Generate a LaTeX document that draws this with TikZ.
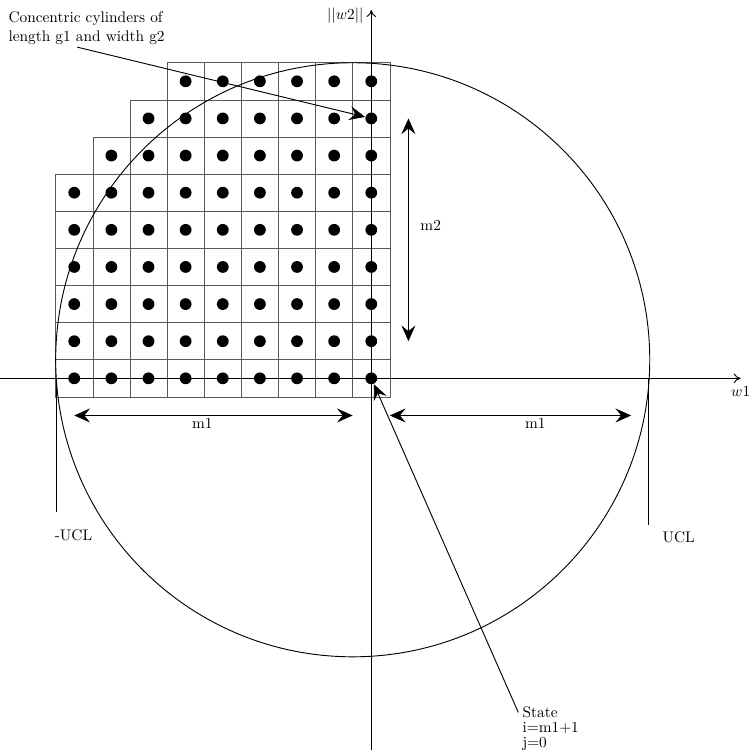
\documentclass[tikz,border=0pt]{standalone}
\usepackage{amsmath}
\usepackage{tikz}
\usetikzlibrary{arrows.meta, positioning}

\begin{document}
\begin{tikzpicture}[x=0.85cm, y=0.85cm, semithick,
    >={Stealth[length=3.6mm, width=3.2mm, inset=1.3mm]},
    cell/.style={draw=black!65, thin},
    dot/.style={circle, fill=black, inner sep=0pt, minimum size=0.27cm},
    axis/.style={-{To[length=1.6mm, width=2.2mm]}},
    lbl/.style={inner sep=0pt}]
    \useasboundingbox (-10,-10) rectangle (10.2,10.19);

    % grid of cells, one dot per cell
    \foreach \r/\cmin in {0/0,1/0,2/0,3/0,4/0,5/0,6/1,7/2,8/3}{
        \foreach \c in {\cmin,...,8}{
            \draw[cell] (\c-8.5,\r-0.5) rectangle (\c-7.5,\r+0.5);
            \node[dot] (p-\c-\r) at (\c-8,\r) {};
        }
    }

    % ucl circle
    \draw (-0.5,0.5) circle (8);

    % axes
    \coordinate (w1a) at (-10,0);
    \coordinate (w1b) at (9.95,0);
    \coordinate (w2a) at (0,-10);
    \coordinate (w2b) at (0,9.92);
    \draw[axis] (w1a) -- (w1b);
    \draw[axis] (w2a) -- (w2b);
    \node[lbl] (w1) at (9.95,-0.35) {$w1$};
    \node[lbl] (w2) at (-0.7,9.78) {$||w2||$};

    % control limits
    \coordinate (ucl1a) at (-8.48,0);
    \coordinate (ucl1b) at (-8.48,-3.6);
    \coordinate (ucl2a) at (7.47,0);
    \coordinate (ucl2b) at (7.47,-3.96);
    \draw (ucl1a) -- (ucl1b);
    \draw (ucl2a) -- (ucl2b);
    \node[lbl] (ucl1) at (-8.02,-4.23) {-UCL};
    \node[lbl] (ucl2) at (8.28,-4.29) {UCL};

    % widths
    \coordinate (m1a) at (-8,-1);
    \coordinate (m1b) at (-0.5,-1);
    \coordinate (m1c) at (0.5,-1);
    \coordinate (m1d) at (7,-1);
    \coordinate (m2a) at (1,1);
    \coordinate (m2b) at (1,7);
    \draw[<->] (m1a) -- (m1b);
    \draw[<->] (m1c) -- (m1d);
    \draw[<->] (m2a) -- (m2b);
    \node[lbl] (m1l) at (-4.55,-1.22) {m1};
    \node[lbl] (m1r) at (4.42,-1.22) {m1};
    \node[lbl] (m2) at (1.6,4.12) {m2};

    % notes
    \node[anchor=north west, align=left] (cyl) at (-9.92,10.02)
        {Concentric cylinders of\\length g1 and width g2};
    \coordinate (cyla) at (-7.92,8.92);
    \draw[->] (cyla) -- (p-8-7);

    \node[anchor=north west, align=left, inner sep=2pt,
        font={\fontsize{10}{9.6}\selectfont}] (state) at (3.98,-8.76)
        {State\\i=m1+1\\j=0};
    \coordinate (statea) at (3.96,-9.0);
    \draw[->] (statea) -- (p-8-0);
\end{tikzpicture}
\end{document}
